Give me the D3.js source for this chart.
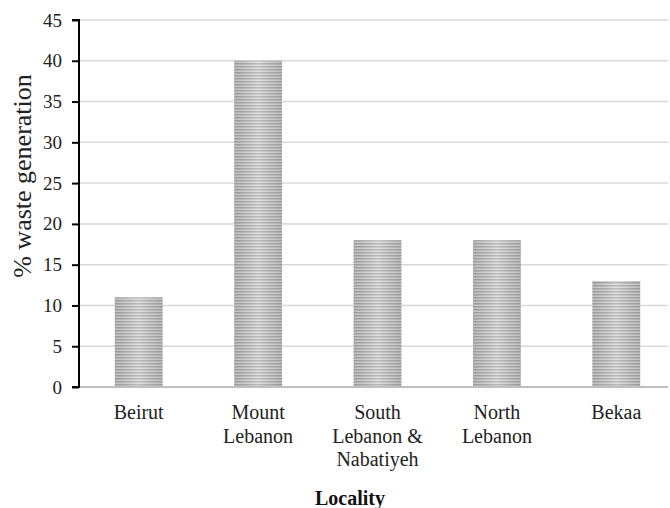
<!DOCTYPE html>
<html>
<head>
<meta charset="utf-8">
<script src="https://cdn.jsdelivr.net/npm/d3@7"></script>
<style>
  body { margin: 0; background: #fff; font-family: 'Liberation Serif'; }
</style>
</head>
<body>
<div id="chart"></div>
<script>
const localities = [["Beirut"], ["Mount", "Lebanon"], ["South", "Lebanon &", "Nabatiyeh"], ["North", "Lebanon"], ["Bekaa"]];
const wasteShare = [11, 40, 18, 18, 13];
const yTicks = [0, 5, 10, 15, 20, 25, 30, 35, 40, 45];

const width = 670, height = 508;
const margin = { top: 20, right: 2, bottom: 121, left: 79 };
const serif = "Liberation Serif";

const svg = d3.select("#chart").append("svg")
  .attr("width", width).attr("height", height)
  .style("font-family", "'Liberation Serif'");

const defs = svg.append("defs");
const pat = defs.append("pattern")
  .attr("id", "stripes").attr("patternUnits", "userSpaceOnUse")
  .attr("width", 8).attr("height", 3);
pat.append("rect").attr("width", 8).attr("height", 3).attr("fill", "#d4d4d4");
pat.append("rect").attr("width", 8).attr("height", 1.5).attr("fill", "#9e9e9e");

const grad = defs.append("linearGradient").attr("id", "shade")
  .attr("x1", "0").attr("x2", "1").attr("y1", "0").attr("y2", "0");
grad.append("stop").attr("offset", "0").attr("stop-color", "#888").attr("stop-opacity", 0.25);
grad.append("stop").attr("offset", "0.5").attr("stop-color", "#fff").attr("stop-opacity", 0.3);
grad.append("stop").attr("offset", "1").attr("stop-color", "#888").attr("stop-opacity", 0.25);

// band range runs a little past the plot edge to match the original spacing
const x = d3.scaleBand()
  .domain(d3.range(localities.length))
  .range([margin.left, 676])
  .paddingInner(0.6).paddingOuter(0.3);

const y = d3.scaleLinear()
  .domain([0, 45])
  .range([height - margin.bottom, margin.top]);

// gridlines
svg.append("g")
  .selectAll("line")
  .data(yTicks.slice(1))
  .enter().append("line")
  .attr("x1", margin.left).attr("x2", width - margin.right)
  .attr("y1", d => y(d)).attr("y2", d => y(d))
  .attr("stroke", "#d9d9d9").attr("stroke-width", 1.5);

// bars
const bars = svg.append("g").selectAll("g")
  .data(wasteShare).enter().append("g");
bars.append("rect")
  .attr("x", (d, i) => x(i)).attr("width", x.bandwidth())
  .attr("y", d => y(d)).attr("height", d => y(0) - y(d))
  .attr("fill", "url(#stripes)");
bars.append("rect")
  .attr("x", (d, i) => x(i)).attr("width", x.bandwidth())
  .attr("y", d => y(d)).attr("height", d => y(0) - y(d))
  .attr("fill", "url(#shade)");

// baseline
svg.append("line")
  .attr("x1", margin.left).attr("x2", width - margin.right)
  .attr("y1", y(0)).attr("y2", y(0))
  .attr("stroke", "#bfbfbf").attr("stroke-width", 2);

// y axis
const yAxis = d3.axisLeft(y).tickValues(yTicks).tickSize(7).tickPadding(10);
const gy = svg.append("g")
  .attr("transform", `translate(${margin.left},0)`)
  .call(yAxis)
  .attr("font-family", serif)
  .attr("font-size", 19);
gy.select(".domain").attr("stroke", "#000").attr("stroke-width", 2)
  .attr("d", `M-7,${y(45)}H0V${y(0)}H-7`);
gy.selectAll(".tick line").attr("stroke", "#000").attr("stroke-width", 2);
gy.selectAll(".tick text").attr("fill", "#222");

// x labels
const xl = svg.append("g")
  .attr("font-family", serif).attr("font-size", 20).attr("fill", "#222")
  .selectAll("text")
  .data(localities).enter().append("text")
  .attr("text-anchor", "middle")
  .attr("x", (d, i) => x(i) + x.bandwidth() / 2)
  .attr("y", 419);
xl.selectAll("tspan")
  .data(d => d).enter().append("tspan")
  .attr("x", function () { return this.parentNode.getAttribute("x"); })
  .attr("dy", (d, i) => i === 0 ? 0 : 23.5)
  .text(d => d);

// axis titles
svg.append("text")
  .attr("x", 350).attr("y", 505)
  .attr("text-anchor", "middle")
  .attr("font-family", serif).attr("font-size", 20).attr("font-weight", "bold")
  .attr("fill", "#111")
  .text("Locality");

svg.append("text")
  .attr("transform", "translate(31,176) rotate(-90)")
  .attr("text-anchor", "middle")
  .attr("font-family", serif).attr("font-size", 26).attr("fill", "#222")
  .text("% waste generation");
</script>
</body>
</html>
